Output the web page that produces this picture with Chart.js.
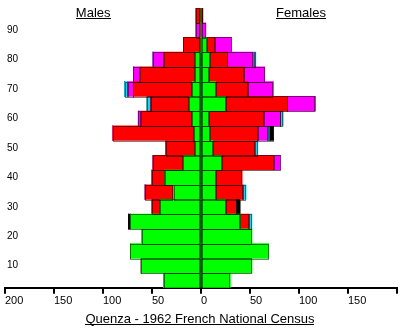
<!DOCTYPE html>
<html>
<head>
<meta charset="utf-8">
<script src="https://cdn.jsdelivr.net/npm/chart.js@4.4.1/dist/chart.umd.min.js"></script>
<style>
  html, body { margin: 0; padding: 0; background: #ffffff; }
  canvas { display: block; }
</style>
</head>
<body>
<canvas id="pyramid" width="400" height="329"></canvas>
<script>
// Five-year age groups, youngest at the bottom
const ageGroups = ['0-4', '5-9', '10-14', '15-19', '20-24', '25-29', '30-34', '35-39', '40-44',
  '45-49', '50-54', '55-59', '60-64', '65-69', '70-74', '75-79', '80-84', '85-89', '90-94'];
const yTickLabels = ['', '10', '', '20', '', '30', '', '40', '', '50', '', '60', '', '70', '', '80', '', '90', ''];
const xTickValues = [-200, -150, -100, -50, 0, 50, 100, 150, 200];

// Males (drawn to the left), one array per colour band
const maleGreen   = [38, 61, 72, 60, 72, 42, 28, 37, 18, 6, 7, 9, 12, 9, 6, 6, 0, 0, 0];
const maleRed     = [0, 0, 0, 0, 0, 8, 29, 13, 31, 30, 83, 52, 39, 60, 56, 32, 18, 0, 5];
const maleMagenta = [0, 0, 0, 0, 0, 0, 0, 0, 0, 0, 0, 3, 0, 6, 7, 11, 0, 5, 0];
const maleCyan    = [0, 0, 0, 0, 0, 0, 0, 0, 0, 0, 0, 0, 4, 3, 0, 0, 0, 0, 0];
const maleBlack   = [0, 0, 0, 0, 2, 0, 0, 0, 0, 0, 0, 0, 0, 0, 0, 0, 0, 0, 0];

// Females (drawn to the right)
const femaleGreen   = [30, 52, 69, 52, 40, 25, 15, 15, 21, 12, 9, 8, 25, 15, 8, 9, 6, 0, 0];
const femaleRed     = [0, 0, 0, 0, 9, 11, 28, 27, 53, 43, 49, 56, 63, 33, 36, 18, 8, 0, 2];
const femaleMagenta = [0, 0, 0, 0, 0, 0, 0, 0, 7, 0, 10, 17, 29, 26, 21, 27, 17, 5, 0];
const femaleCyan    = [0, 0, 0, 0, 3, 0, 3, 0, 0, 3, 2, 3, 0, 0, 0, 2, 0, 0, 0];
const femaleBlack   = [0, 0, 0, 0, 0, 4, 0, 0, 0, 0, 4, 0, 0, 0, 0, 0, 0, 0, 0];

const COLORS = { green: '#00ff00', red: '#ff0000', magenta: '#ff00ff', cyan: '#1fd0f0', black: '#000000' };
const SANS = "'Liberation Sans', Arial, sans-serif";
const NARROW = "'Liberation Sans Narrow', 'Liberation Sans', Arial, sans-serif";

function band(label, values, color, side) {
  return {
    label: label,
    data: values.map(v => side * v),
    backgroundColor: color,
    borderWidth: 0,
    stack: 'pyramid',
    categoryPercentage: 1.0,
    barPercentage: 1.0
  };
}

const datasets = [
  band('Males', maleGreen, COLORS.green, -1),
  band('Males', maleRed, COLORS.red, -1),
  band('Males', maleMagenta, COLORS.magenta, -1),
  band('Males', maleCyan, COLORS.cyan, -1),
  band('Males', maleBlack, COLORS.black, -1),
  band('Females', femaleGreen, COLORS.green, 1),
  band('Females', femaleRed, COLORS.red, 1),
  band('Females', femaleMagenta, COLORS.magenta, 1),
  band('Females', femaleCyan, COLORS.cyan, 1),
  band('Females', femaleBlack, COLORS.black, 1)
];

// Dotted outline round every bar segment
const dottedOutline = {
  id: 'dottedOutline',
  afterDatasetsDraw(chart) {
    const ctx = chart.ctx;
    ctx.save();
    ctx.strokeStyle = '#000000';
    ctx.lineWidth = 1;
    ctx.setLineDash([1, 1]);
    chart.data.datasets.forEach((ds, i) => {
      const meta = chart.getDatasetMeta(i);
      meta.data.forEach(bar => {
        const p = bar.getProps(['x', 'y', 'base', 'height'], true);
        const left = Math.min(p.x, p.base);
        const right = Math.max(p.x, p.base);
        if (right - left < 0.5) return;
        const top = p.y - p.height / 2;
        ctx.strokeRect(Math.round(left) + 0.5, Math.round(top) + 0.5,
          Math.round(right - left) - 1, Math.round(p.height));
      });
    });
    ctx.restore();
  }
};

// Underlined headings: sides at the top, census caption at the bottom
function underlinedText(ctx, text, cx, baseline) {
  const w = ctx.measureText(text).width;
  ctx.fillText(text, cx, baseline);
  ctx.fillRect(Math.round(cx - w / 2), Math.round(baseline) + 1, Math.round(w), 1);
}

const headings = {
  id: 'headings',
  afterDraw(chart) {
    const ctx = chart.ctx;
    const xs = chart.scales.x;
    ctx.save();
    ctx.fillStyle = '#000000';
    ctx.font = '13px ' + SANS;
    ctx.textAlign = 'center';
    ctx.textBaseline = 'alphabetic';
    underlinedText(ctx, 'Males', xs.getPixelForValue(-110), 17);
    underlinedText(ctx, 'Females', xs.getPixelForValue(102), 17);
    underlinedText(ctx, 'Quenza - 1962 French National Census', chart.width / 2, 323);
    ctx.restore();
  }
};

new Chart(document.getElementById('pyramid'), {
  type: 'bar',
  data: { labels: ageGroups, datasets: datasets },
  options: {
    indexAxis: 'y',
    responsive: false,
    animation: false,
    devicePixelRatio: 1,
    layout: { padding: { left: 1, right: 3, top: 4, bottom: 20 } },
    plugins: {
      legend: { display: false },
      tooltip: { enabled: false },
      title: { display: false }
    },
    scales: {
      x: {
        type: 'linear',
        stacked: true,
        min: -200,
        max: 200,
        z: 1,
        afterBuildTicks: scale => { scale.ticks = xTickValues.map(v => ({ value: v })); },
        border: { display: true, color: '#000000', width: 2 },
        grid: {
          drawOnChartArea: true,
          drawTicks: true,
          tickLength: 6,
          lineWidth: 2,
          tickWidth: 2,
          tickColor: '#000000',
          color: c => (c.tick && c.tick.value === 0 ? '#000000' : 'rgba(0,0,0,0)')
        },
        ticks: {
          autoSkip: false,
          maxRotation: 0,
          align: 'start',
          padding: 1,
          color: '#000000',
          font: { family: NARROW, size: 11 },
          callback: v => (v === 200 ? '' : String(Math.abs(v)))
        }
      },
      y: {
        type: 'category',
        stacked: true,
        reverse: true,
        position: 'left',
        border: { display: false },
        grid: { display: false, drawTicks: false },
        ticks: {
          mirror: true,
          padding: 2,
          autoSkip: false,
          color: '#000000',
          font: { family: NARROW, size: 10 },
          callback: (v, i) => yTickLabels[i]
        }
      }
    }
  },
  plugins: [dottedOutline, headings]
});
</script>
</body>
</html>
